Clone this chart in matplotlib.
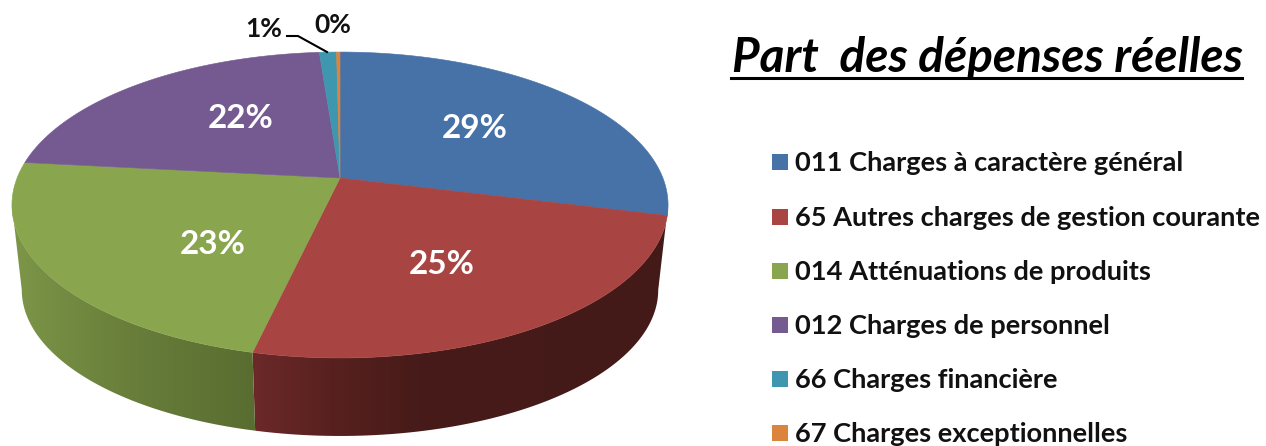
import numpy as np
import matplotlib
matplotlib.use('Agg')
import matplotlib.pyplot as plt
from matplotlib.patches import Polygon, Rectangle

plt.rcParams['font.family'] = ['Lato', 'DejaVu Sans']

# Valeurs (en %)
categories = ['011 Charges à caractère général',
              '65 Autres charges de gestion courante',
              '014 Atténuations de produits',
              '012 Charges de personnel',
              '66 Charges financière',
              '67 Charges exceptionnelles']
values = [28.9, 24.7, 23.1, 22.1, 1.0, 0.2]
colors = ['#4672A8', '#A84442', '#89A54E', '#745A91', '#3F96AF', '#DB843D']
title = 'Part  des dépenses réelles'

# Couleur de la tranche selon x (dégradé du bord)
side_x = {2: [12, 60, 130, 253], 1: [253, 330, 420, 668]}
side_rgb = {2: [(125, 150, 72), (116, 140, 66), (104, 126, 58), (90, 109, 49)],
            1: [(108, 41, 41), (88, 33, 31), (70, 27, 25), (68, 26, 24)]}

W, H = 1266, 446
CX, CY = 340, 178
A, B, K = 322.9, 148.2, 0.1765


def project(theta):
    """Projette un angle (sens horaire depuis le haut) sur l'ellipse du dessus."""
    u, v = np.sin(theta), np.cos(theta)
    w = 1 + K * v
    return CX + A * u / w, CY - B * v / w


def project_bottom(theta):
    x, y = project(theta)
    return CX + (x - CX) * 0.97, 290 + (y - 205) * 146 / 153


fig = plt.figure(figsize=(W / 100, H / 100), dpi=100)
ax = fig.add_axes([0, 0, 1, 1])

edges = np.cumsum([0] + values) / sum(values) * 2 * np.pi

# Tranche (bord inférieur) : dégradé horizontal découpé par le contour
# la tranche commence là où l'ellipse est la plus large
widest = np.arccos(-K)
side_range = {1: (widest, edges[2]), 2: (edges[2], 2 * np.pi - widest)}
for i in (1, 2):
    ts = np.linspace(side_range[i][0], side_range[i][1], 200)
    outline = [project(t) for t in ts] + [project_bottom(t) for t in ts[::-1]]
    xs = np.arange(0, W)
    grad = np.stack([np.interp(xs, side_x[i], [c[k] for c in side_rgb[i]]) / 255
                     for k in range(3)], axis=-1)[np.newaxis, :, :]
    im = ax.imshow(grad, extent=(0, W, H, 0), aspect='auto', interpolation='bilinear')
    im.set_clip_path(Polygon(outline, transform=ax.transData))

ax.set_xlim(0, W)
ax.set_ylim(H, 0)
ax.axis('off')

# Dessus du camembert
for i, c in enumerate(colors):
    ts = np.linspace(edges[i], edges[i + 1], 200)
    pts = [(CX, CY)] + [project(t) for t in ts]
    ax.add_patch(Polygon(pts, facecolor=c, edgecolor=c, linewidth=0.4))

# Étiquettes
label_pos = [(475, 128), (442, 264), (213, 245), (241, 119), (264, 29), (333, 25)]
for i, (v, (x, y)) in enumerate(zip(values, label_pos)):
    inside = i < 4
    ax.text(x, y, f'{round(v)}%', ha='center', va='center', fontweight='bold',
            fontsize=24 if inside else 19, color='white' if inside else '#111111')
ax.plot([287, 298, 327], [36, 36, 52], color='black', linewidth=1.5)

# Titre souligné
ax.text(732, 72, title, ha='left', va='baseline', fontsize=34.3, fontweight='bold',
        fontstyle='italic', color='black')
ax.plot([731, 1242], [78, 78], color='black', linewidth=2.2)

# Légende
legend_y = [162, 217, 271, 325, 379, 433]
for name, c, y in zip(categories, colors, legend_y):
    ax.add_patch(Rectangle((772, y - 8), 16, 16, facecolor=c, edgecolor='none'))
    ax.text(795, y + 1, name, ha='left', va='center', fontsize=19.6, fontweight='bold', color='#111111')

fig.savefig('out.png', dpi=100)
